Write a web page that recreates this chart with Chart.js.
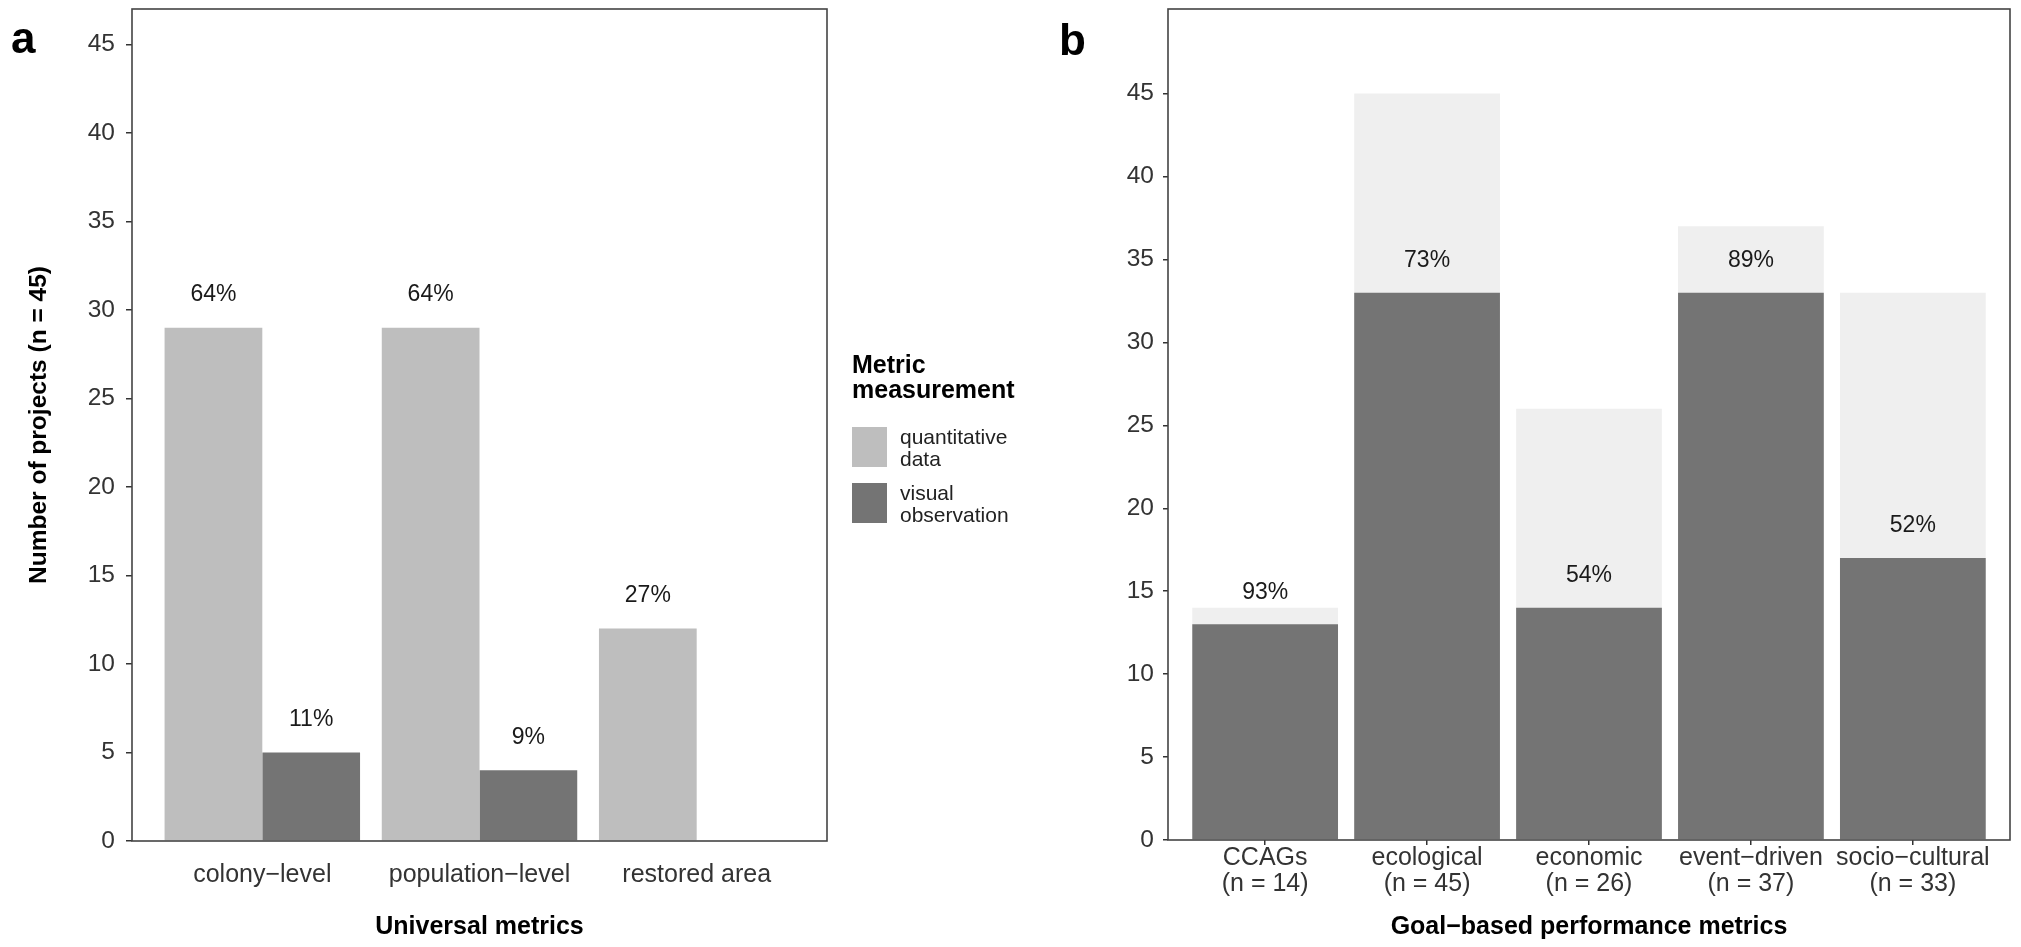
<!DOCTYPE html>
<html>
<head>
<meta charset="utf-8">
<script src="https://cdn.jsdelivr.net/npm/chart.js@4.4.1/dist/chart.umd.min.js"></script>
<style>
  html, body { margin: 0; padding: 0; background: #fff; }
  body { width: 2021px; height: 947px; position: relative; overflow: hidden;
         font-family: "Liberation Sans", Arial, Helvetica, sans-serif; color: #000; }
  #ca { position: absolute; left: 0; top: 0; }
  #cb { position: absolute; left: 1030px; top: 0; }
  .tag { position: absolute; font-weight: bold; font-size: 44px; line-height: 1; }
  #legend { position: absolute; left: 852px; top: 352px; }
  #legend .ttl { font-weight: bold; font-size: 25px; line-height: 25px; width: 160px; }
  .row { position: absolute; left: 0; width: 220px; height: 40px; }
  .key { position: absolute; left: 0; top: 0; width: 35px; height: 40px; }
  .lab { position: absolute; left: 48px; top: -1px; width: 130px; font-size: 21px; line-height: 22px; color: #222; }
</style>
</head>
<body>
<canvas id="ca" width="1030" height="947"></canvas>
<canvas id="cb" width="991" height="947"></canvas>
<div class="tag" style="left:11px; top:16px;">a</div>
<div class="tag" style="left:1059px; top:18px;">b</div>
<div id="legend"><div class="ttl" id="legTitle"></div></div>

<script>
// ---------------- data ----------------
const universalCats = ['colony\u2212level', 'population\u2212level', 'restored area'];
const quantData  = [29, 29, 12];
const visualData = [5, 4, null];
const quantPct   = ['64%', '64%', '27%'];
const visualPct  = ['11%', '9%', ''];
const seriesNames = ['quantitative data', 'visual observation'];
const legendTitle = 'Metric measurement';

const goalCats  = ['CCAGs', 'ecological', 'economic', 'event\u2212driven', 'socio\u2212cultural'];
const goalN     = ['(n = 14)', '(n = 45)', '(n = 26)', '(n = 37)', '(n = 33)'];
const goalTotal    = [14, 45, 26, 37, 33];
const goalMeasured = [13, 33, 14, 33, 17];
const goalPct      = ['93%', '73%', '54%', '89%', '52%'];

const yTickValues = [0, 5, 10, 15, 20, 25, 30, 35, 40, 45];
const yTitleA = 'Number of projects (n = 45)';
const xTitleA = 'Universal metrics';
const xTitleB = 'Goal\u2212based performance metrics';

// ---------------- style ----------------
const FONT = '"Liberation Sans", Arial, Helvetica, sans-serif';
Chart.defaults.font.family = FONT;
Chart.defaults.animation = false;
const LIGHT_A = '#bebebe', DARK = '#747474', LIGHT_B = '#efefef';
const TICK_COL = '#333333';

const framePlugin = {
  id: 'frame',
  afterDraw(chart) {
    const { ctx, chartArea: a } = chart;
    ctx.save();
    ctx.strokeStyle = '#444';
    ctx.lineWidth = 1.6;
    ctx.strokeRect(a.left, a.top, a.right - a.left, a.bottom - a.top);
    ctx.restore();
  }
};

const pctPlugin = {
  id: 'pct',
  afterDatasetsDraw(chart, args, opts) {
    const ctx = chart.ctx;
    chart.data.datasets.forEach((ds, di) => {
      if (!ds.pct) return;
      const meta = chart.getDatasetMeta(di);
      meta.data.forEach((el, i) => {
        const t = ds.pct[i];
        if (!t) return;
        ctx.save();
        ctx.font = opts.size + 'px ' + FONT;
        ctx.fillStyle = '#1a1a1a';
        ctx.textAlign = 'center';
        ctx.textBaseline = 'middle';
        ctx.fillText(t, el.x, el.y - opts.offset);
        ctx.restore();
      });
    });
  }
};

function yAxis(max, width, tickLen, pad, title) {
  const ax = {
    type: 'linear', min: 0, max: max,
    afterBuildTicks: s => { s.ticks = yTickValues.map(v => ({ value: v })); },
    afterFit: s => { s.width = width; s.paddingTop = 0; s.paddingBottom = 0; },
    grid: { drawOnChartArea: false, drawTicks: true, tickLength: tickLen, color: TICK_COL, lineWidth: 1.5 },
    border: { display: false },
    ticks: { font: { size: 24.5 }, color: TICK_COL, padding: pad },
    title: { display: false }
  };
  if (title) {
    ax.title = { display: true, text: title, color: '#000',
                 font: { size: 24.5, weight: 'bold' }, padding: { top: 25, bottom: 0 } };
  }
  return ax;
}

// ---------------- panel a ----------------
new Chart(document.getElementById('ca'), {
  type: 'bar',
  data: {
    datasets: [
      { label: seriesNames[0], data: quantData.map((v, i) => ({ x: i, y: v })),
        backgroundColor: LIGHT_A, borderWidth: 0, categoryPercentage: 0.9, barPercentage: 1, pct: quantPct },
      { label: seriesNames[1], data: visualData.map((v, i) => ({ x: i, y: v })),
        backgroundColor: DARK, borderWidth: 0, categoryPercentage: 0.9, barPercentage: 1, pct: visualPct }
    ]
  },
  options: {
    responsive: false, animation: false,
    layout: { padding: { left: 0, top: 9, right: 203, bottom: 0 } },
    plugins: { legend: { display: false }, tooltip: { enabled: false }, pct: { size: 23, offset: 33 } },
    scales: {
      x: {
        type: 'linear', min: -0.6, max: 2.6, offset: false,
        afterBuildTicks: s => { s.ticks = universalCats.map((c, i) => ({ value: i })); },
        afterFit: s => { s.height = 106; s.paddingLeft = 0; s.paddingRight = 0; },
        grid: { display: false, offset: false },
        border: { display: false },
        ticks: { callback: v => universalCats[v], font: { size: 25, lineHeight: 1.1 }, color: TICK_COL,
                 padding: 12, maxRotation: 0, autoSkip: false },
        title: { display: true, text: xTitleA, color: '#000', font: { size: 25, weight: 'bold' },
                 padding: { top: 0, bottom: 5 } }
      },
      y: yAxis(47.0, 132, 6, 11, yTitleA)
    }
  },
  plugins: [framePlugin, pctPlugin]
});

// ---------------- panel b ----------------
new Chart(document.getElementById('cb'), {
  type: 'bar',
  data: {
    datasets: [
      { label: 'measured', data: goalMeasured.map((v, i) => ({ x: i, y: v })), order: 0,
        backgroundColor: DARK, borderWidth: 0, grouped: false, categoryPercentage: 0.9, barPercentage: 1, pct: goalPct },
      { label: 'total', data: goalTotal.map((v, i) => ({ x: i, y: v })), order: 1,
        backgroundColor: LIGHT_B, borderWidth: 0, grouped: false, categoryPercentage: 0.9, barPercentage: 1 }
    ]
  },
  options: {
    responsive: false, animation: false,
    layout: { padding: { left: 0, top: 9, right: 11, bottom: 0 } },
    plugins: { legend: { display: false }, tooltip: { enabled: false }, pct: { size: 23, offset: 32 } },
    scales: {
      x: {
        type: 'linear', min: -0.6, max: 4.6, offset: false,
        afterBuildTicks: s => { s.ticks = goalCats.map((c, i) => ({ value: i })); },
        afterFit: s => { s.height = 107; s.paddingLeft = 0; s.paddingRight = 0; },
        grid: { display: true, drawOnChartArea: false, drawTicks: true, tickLength: 5, color: TICK_COL, lineWidth: 1.5, offset: false },
        border: { display: false },
        ticks: { callback: v => [goalCats[v], goalN[v]], font: { size: 25, lineHeight: 1.05 }, color: TICK_COL,
                 padding: 0, maxRotation: 0, autoSkip: false },
        title: { display: true, text: xTitleB, color: '#000', font: { size: 25, weight: 'bold' },
                 padding: { top: 0, bottom: 5 } }
      },
      y: yAxis(50.1, 138, 5, 9, null)
    }
  },
  plugins: [framePlugin, pctPlugin]
});

// ---------------- legend for panel a ----------------
(function () {
  const leg = document.getElementById('legend');
  document.getElementById('legTitle').textContent = legendTitle;
  const colors = [LIGHT_A, DARK];
  const tops = [75, 131];
  seriesNames.forEach((name, i) => {
    const row = document.createElement('div');
    row.className = 'row';
    row.style.top = tops[i] + 'px';
    const key = document.createElement('div');
    key.className = 'key';
    key.style.background = colors[i];
    const lab = document.createElement('div');
    lab.className = 'lab';
    lab.textContent = name;
    row.appendChild(key);
    row.appendChild(lab);
    leg.appendChild(row);
  });
})();
</script>
</body>
</html>
